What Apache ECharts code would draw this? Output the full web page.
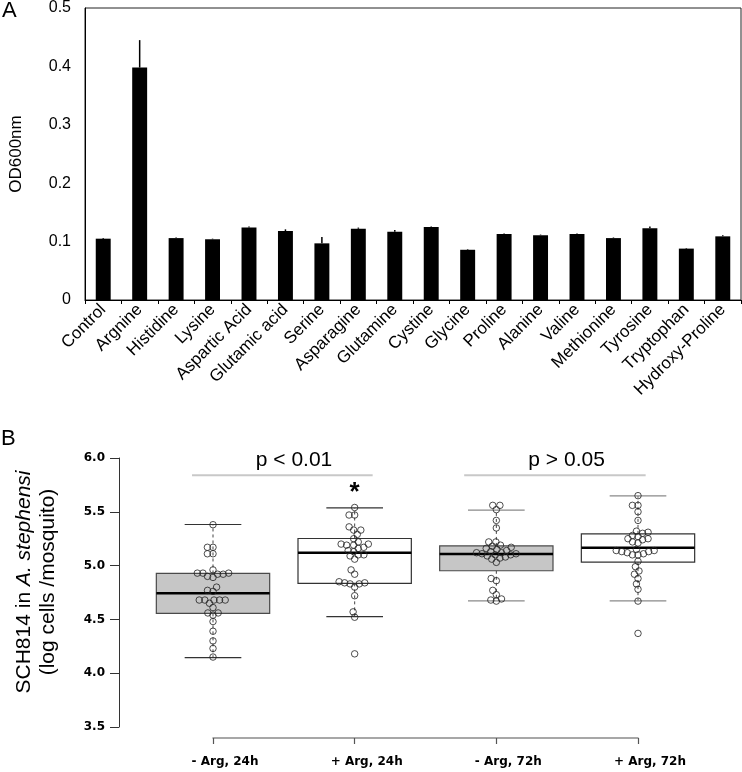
<!DOCTYPE html>
<html><head><meta charset="utf-8">
<script src="https://cdn.jsdelivr.net/npm/echarts@6/dist/echarts.min.js"></script>
<style>html,body{margin:0;padding:0;background:#fff}#c{width:742px;height:772px}</style>
</head><body><div id="c"></div>
<script>
// ---------- Panel A data ----------
const aminoAcids = ['Control','Argnine','Histidine','Lysine','Aspartic Acid','Glutamic acid','Serine','Asparagine','Glutamine','Cystine','Glycine','Proline','Alanine','Valine','Methionine','Tyrosine','Tryptophan','Hydroxy-Proline'];
const odMeans  = [0.105,0.398,0.106,0.104,0.124,0.118,0.097,0.122,0.117,0.125,0.086,0.113,0.111,0.113,0.106,0.123,0.088,0.109];
const odErrors = [0.001,0.047,0.001,0.001,0.002,0.003,0.011,0.002,0.003,0.001,0.001,0.001,0.001,0.001,0.001,0.003,0.001,0.002];

// ---------- Panel B data ----------
const groupLabels = ['- Arg, 24h','+ Arg, 24h','- Arg, 72h','+ Arg, 72h'];
// [lower whisker, Q1, median, Q3, upper whisker]
const boxStats = [
  [4.145,4.556,4.742,4.927,5.382],
  [4.525,4.835,5.119,5.252,5.536],
  [4.673,4.952,5.107,5.183,5.515],
  [4.673,5.032,5.165,5.295,5.648]
];
const dotsMinus24 = [5.38,5.17,5.17,5.11,5.11,4.96,4.93,4.93,4.92,4.92,4.93,4.90,4.89,4.80,4.77,4.76,4.68,4.68,4.68,4.68,4.68,4.65,4.61,4.56,4.56,4.54,4.48,4.39,4.30,4.23,4.15];
const dotsPlus24  = [5.54,5.47,5.47,5.36,5.33,5.33,5.29,5.25,5.22,5.20,5.20,5.19,5.19,5.17,5.16,5.14,5.13,5.10,5.10,5.09,5.06,4.96,4.92,4.85,4.84,4.84,4.83,4.83,4.80,4.72,4.57,4.52,4.18];
const dotsMinus72 = [5.56,5.56,5.52,5.42,5.35,5.22,5.22,5.19,5.18,5.17,5.16,5.15,5.14,5.13,5.12,5.12,5.11,5.11,5.10,5.10,5.09,5.08,5.07,5.06,5.03,4.88,4.86,4.77,4.73,4.69,4.68,4.67];
const dotsPlus72  = [5.65,5.56,5.56,5.50,5.42,5.32,5.31,5.30,5.28,5.27,5.25,5.25,5.24,5.22,5.21,5.15,5.14,5.14,5.13,5.13,5.12,5.11,5.10,5.10,5.04,4.99,4.95,4.92,4.88,4.83,4.78,4.67,4.37];
const groupDots = [dotsMinus24, dotsPlus24, dotsMinus72, dotsPlus72];

// significance annotations (x in group-index units, y in data units)
const brackets = [
  {from:-0.148, to:1.127, y:5.84, text:'p < 0.01', tx:0.572, ty:5.975},
  {from:1.773, to:3.054, y:5.84, text:'p > 0.05', tx:2.496, ty:5.975}
];
const stars = [{x:1, y:5.68, text:'*'}];

// styles (kept apart from data)
const boxStyles = [
  {fill:'#c6c6c6', border:'#4a4a4a', cap:'#333'},
  {fill:'#ffffff', border:'#333333', cap:'#333'},
  {fill:'#c6c6c6', border:'#4a4a4a', cap:'#8a8a8a'},
  {fill:'#ffffff', border:'#333333', cap:'#8a8a8a'}
];

const chart = echarts.init(document.getElementById('c'), null, {renderer:'canvas'});
const SANS = '"Liberation Sans", Arial, sans-serif';
const VERD = '"DejaVu Sans", Verdana, sans-serif';

const option = {
  animation:false,
  backgroundColor:'#fff',
  grid:[
    {left:80, right:1, top:7, bottom:472, show:true, borderColor:'#222', borderWidth:1, backgroundColor:'transparent'},
    {left:213, right:104, top:458, bottom:45, show:false}
  ],
  xAxis:[
    {type:'category', gridIndex:0, data:aminoAcids, boundaryGap:true,
     axisLine:{lineStyle:{color:'#000', width:1}},
     axisTick:{show:true, length:4, interval:0, lineStyle:{color:'#000'}},
     axisLabel:{interval:0, rotate:45, margin:7, fontSize:17, fontFamily:SANS, color:'#000'}},
    {type:'category', gridIndex:1, data:groupLabels, boundaryGap:false, offset:11,
     axisLine:{onZero:false, lineStyle:{color:'#8a8a8a', width:1.5}},
     axisTick:{show:true, length:6, lineStyle:{color:'#555', width:1.2}},
     axisLabel:{margin:18, fontSize:12, fontWeight:'bold', fontFamily:VERD, color:'#000', padding:[0,0,0,24]}},
    {type:'value', gridIndex:1, min:0, max:3, show:false, axisLine:{onZero:false}}
  ],
  yAxis:[
    {type:'value', gridIndex:0, min:0, max:0.5, interval:0.1,
     name:'OD600nm', nameLocation:'middle', nameGap:60,
     nameTextStyle:{fontSize:17, fontFamily:SANS, color:'#000'},
     axisLine:{show:true, onZero:false, lineStyle:{color:'#000'}}, axisTick:{show:false}, splitLine:{show:false},
     axisLabel:{margin:14, fontSize:16, fontFamily:SANS, color:'#000', formatter:v=> v===0?'0':v.toFixed(1)}},
    {type:'value', gridIndex:1, min:3.5, max:6.0, interval:0.5, offset:94,
     axisLine:{show:true, onZero:false, lineStyle:{color:'#333'}}, axisTick:{show:true, length:9, lineStyle:{color:'#333'}},
     splitLine:{show:false},
     axisLabel:{margin:14, fontSize:12, fontWeight:'bold', fontFamily:VERD, color:'#000', formatter:v=>v.toFixed(1)}}
  ],
  graphic:[
    {type:'text', left:2, top:0, style:{text:'A', font:'22px '+SANS, fill:'#000'}},
    {type:'text', left:1, top:428, style:{text:'B', font:'22px '+SANS, fill:'#000'}},
    {type:'text', x:36, y:582, rotation:Math.PI/2,
     style:{text:'{n|SCH814 in }{i|A. stephensi}\n{n|(log cells /mosquito)}',
            rich:{n:{font:'21px '+SANS, lineHeight:24, fill:'#000'}, i:{font:'italic 21px '+SANS, lineHeight:24, fill:'#000'}},
            align:'center', verticalAlign:'middle', textAlign:'center', textVerticalAlign:'middle'}}
  ],
  series:[
    {type:'bar', xAxisIndex:0, yAxisIndex:0, data:odMeans, barWidth:'41%', itemStyle:{color:'#000'}},
    {type:'custom', xAxisIndex:0, yAxisIndex:0, z:5,
     data: odMeans.map((m,i)=>[i, m, m+odErrors[i]]),
     encode:{x:0, y:[1,2]},
     renderItem(params, api){
       const p1 = api.coord([api.value(0), api.value(1)]);
       const p2 = api.coord([api.value(0), api.value(2)]);
       return {type:'line', shape:{x1:p1[0], y1:p1[1], x2:p2[0], y2:p2[1]}, style:{stroke:'#000', lineWidth:1.5}};
     }},
    {type:'custom', xAxisIndex:2, yAxisIndex:1, z:2, clip:false,
     data: boxStats.map((s,i)=>[i].concat(s)),
     encode:{x:0, y:[1,2,3,4,5]},
     renderItem(params, api){
       const i = api.value(0);
       const unit = api.size([1,0])[0];
       const hw = unit*0.4, cw = unit*0.2;
       const lo = api.coord([i, api.value(1)]), q1 = api.coord([i, api.value(2)]),
             md = api.coord([i, api.value(3)]), q3 = api.coord([i, api.value(4)]),
             hi = api.coord([i, api.value(5)]);
       const cx = lo[0];
       const st = boxStyles[params.dataIndex];
       const dash = {stroke:'#444', lineWidth:1, lineDash:[3,3]};
       return {type:'group', children:[
         {type:'line', shape:{x1:cx, y1:q3[1], x2:cx, y2:hi[1]}, style:dash},
         {type:'line', shape:{x1:cx, y1:q1[1], x2:cx, y2:lo[1]}, style:dash},
         {type:'line', shape:{x1:cx-cw, y1:hi[1], x2:cx+cw, y2:hi[1]}, style:{stroke:st.cap, lineWidth:1.2}},
         {type:'line', shape:{x1:cx-cw, y1:lo[1], x2:cx+cw, y2:lo[1]}, style:{stroke:st.cap, lineWidth:1.2}},
         {type:'rect', shape:{x:cx-hw, y:q3[1], width:2*hw, height:q1[1]-q3[1]}, style:{fill:st.fill, stroke:st.border, lineWidth:1.2}},
         {type:'line', shape:{x1:cx-hw, y1:md[1], x2:cx+hw, y2:md[1]}, style:{stroke:'#000', lineWidth:2.5}}
       ]};
     }},
    {type:'custom', xAxisIndex:2, yAxisIndex:1, z:4, clip:false,
     data: brackets.map(b=>[b.from, b.to, b.y, b.tx, b.ty]),
     encode:{x:[0,1,3], y:[2,4]},
     renderItem(params, api){
       const b = brackets[params.dataIndex];
       const a = api.coord([b.from, b.y]), c = api.coord([b.to, b.y]), t = api.coord([b.tx, b.ty]);
       return {type:'group', children:[
         {type:'line', shape:{x1:a[0], y1:a[1], x2:c[0], y2:c[1]}, style:{stroke:'#c8c8c8', lineWidth:2}},
         {type:'text', x:t[0], y:t[1], style:{text:b.text, font:'21px '+SANS, fill:'#000', align:'center', verticalAlign:'middle', textAlign:'center', textVerticalAlign:'middle'}}
       ]};
     }},
    {type:'custom', xAxisIndex:2, yAxisIndex:1, z:4, clip:false,
     data: stars.map(s=>[s.x, s.y]),
     encode:{x:0, y:1},
     renderItem(params, api){
       const p = api.coord([api.value(0), api.value(1)]);
       return {type:'text', x:p[0], y:p[1], style:{text:stars[params.dataIndex].text, font:'bold 26px '+SANS, fill:'#000', align:'center', verticalAlign:'middle', textAlign:'center', textVerticalAlign:'middle'}};
     }},
    {type:'scatter', id:'dots', xAxisIndex:2, yAxisIndex:1, z:6, clip:false, data:[],
     symbol:'circle', symbolSize:6.5,
     itemStyle:{color:'rgba(255,255,255,0)', borderColor:'#222', borderWidth:1}}
  ]
};
chart.setOption(option);

// beeswarm layout in pixel space, converted back to axis units
const pxX = Math.abs(chart.convertToPixel({xAxisIndex:2}, 1) - chart.convertToPixel({xAxisIndex:2}, 0));
const pxY = Math.abs(chart.convertToPixel({yAxisIndex:1}, 5) - chart.convertToPixel({yAxisIndex:1}, 4));
function swarm(vals, d){
  const order = vals.map((v,i)=>i).sort((a,b)=>vals[a]-vals[b]);
  const placed = [], xs = new Array(vals.length);
  for (const i of order){
    const y = vals[i]*pxY;
    const cands = [0];
    for (const p of placed){
      const dy = y - p.y;
      if (Math.abs(dy) < d){ const dx = Math.sqrt(d*d - dy*dy); cands.push(p.x+dx, p.x-dx); }
    }
    cands.sort((a,b)=>Math.abs(a)-Math.abs(b) || a-b);
    let best = 0;
    for (const c of cands){
      if (placed.every(p => (c-p.x)*(c-p.x) + (y-p.y)*(y-p.y) >= d*d - 1e-6)){ best = c; break; }
    }
    placed.push({x:best, y}); xs[i] = best;
  }
  return xs.map(x => x/pxX);
}
const dotData = [];
groupDots.forEach((vals, g) => {
  const off = swarm(vals, 5.6);
  vals.forEach((v, k) => dotData.push([g + off[k], v]));
});
chart.setOption({series:[{id:'dots', data:dotData}]});
</script></body></html>
